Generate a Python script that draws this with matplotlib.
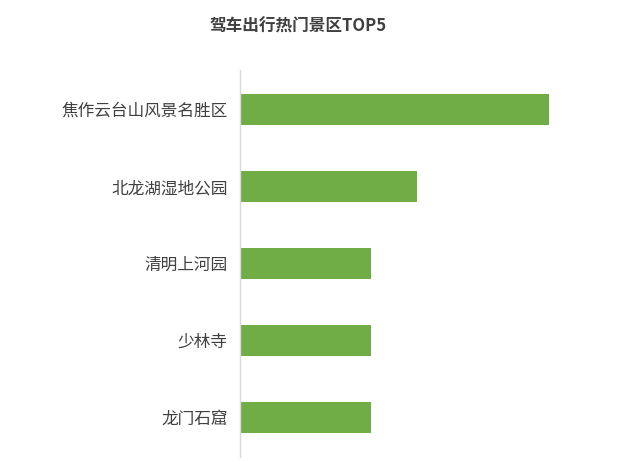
import matplotlib.pyplot as plt

plt.rcParams['font.family'] = ['Noto Sans CJK SC', 'DejaVu Sans']

# 景区名称与相对热度（从图上按柱长估算）
spots = ["焦作云台山风景名胜区", "北龙湖湿地公园", "清明上河园", "少林寺", "龙门石窟"]
heat = [309, 177, 131, 131, 131]

fig = plt.figure(figsize=(6.4, 4.61), dpi=100)
ax = fig.add_axes([240 / 640, 4 / 461, 309 / 640, 387 / 461])

ypos = list(range(len(spots)))
ax.barh(ypos, heat, height=0.4, color='#70ad47')
ax.set_xlim(0, max(heat))
ax.set_ylim(len(spots) - 0.487, -0.513)

ax.set_yticks(ypos)
ax.set_yticklabels(spots, fontsize=12, color='#404040')
ax.tick_params(axis='y', length=0, pad=9)
ax.set_xticks([])

for s in ['top', 'right', 'bottom']:
    ax.spines[s].set_visible(False)
ax.spines['left'].set_color('#d9d9d9')
ax.spines['left'].set_linewidth(1)

fig.text(298 / 640, 1 - 27 / 461, "驾车出行热门景区TOP5", ha='center', va='center',
         fontsize=12, fontweight='bold', color='#404040')

fig.savefig('out.png', dpi=100)
